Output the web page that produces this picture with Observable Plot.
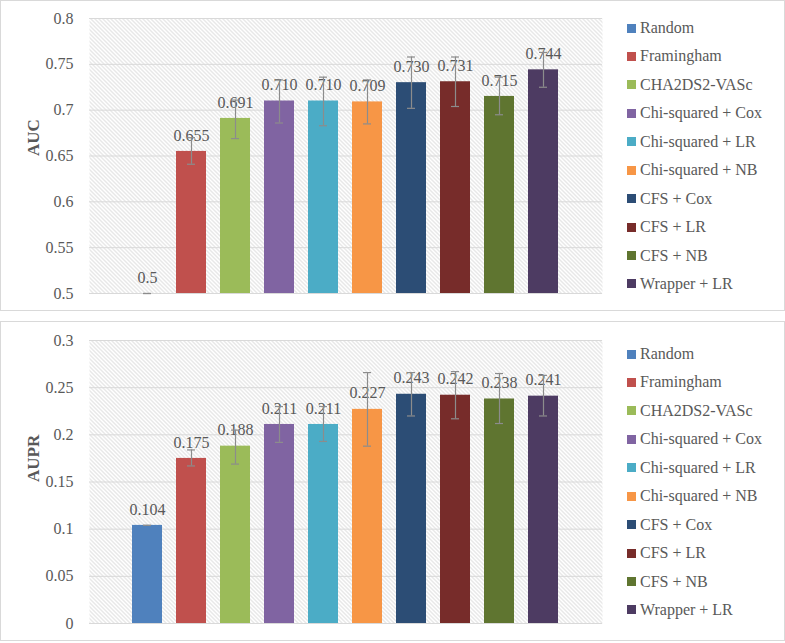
<!DOCTYPE html>
<html><head><meta charset="utf-8">
<script src="https://cdn.jsdelivr.net/npm/d3@7"></script>
<script src="https://cdn.jsdelivr.net/npm/@observablehq/plot@0.6"></script>
<style>
body{margin:0;background:#fff;font-family:"Liberation Serif","Times New Roman",serif;}
.panel{position:absolute;left:0;width:783px;border:1px solid #d9d9d9;background:#fff;}
.panel svg{position:absolute;left:0;top:0;}
.legend{position:absolute;left:626px;top:0;color:#595959;font-size:16px;font-family:"Liberation Serif","Times New Roman",serif;}
.legend .row{position:absolute;left:0;white-space:nowrap;display:flex;align-items:center;height:20px;line-height:20px;}
.legend .sw{width:9px;height:9px;margin-right:4px;flex:none;}
</style></head><body>
<div id="p1" class="panel" style="top:0;height:309px"></div>
<div id="p2" class="panel" style="top:321px;height:318px"></div>
<script>
const methods = ["Random","Framingham","CHA2DS2-VASc","Chi-squared + Cox","Chi-squared + LR","Chi-squared + NB","CFS + Cox","CFS + LR","CFS + NB","Wrapper + LR"];
const colors = ["#4F81BD","#C0504D","#9BBB59","#8064A2","#4BACC6","#F79646","#2C4D75","#772C2A","#5F7530","#4D3B62"];

const aucValues = [0.5,0.655,0.691,0.710,0.710,0.709,0.730,0.731,0.715,0.744];
const aucLow    = [0.5,0.641,0.669,0.686,0.683,0.685,0.702,0.704,0.695,0.725];
const aucHigh   = [0.5,0.670,0.711,0.733,0.736,0.733,0.758,0.758,0.736,0.763];
const aucLabels = ["0.5","0.655","0.691","0.710","0.710","0.709","0.730","0.731","0.715","0.744"];
const aucTicks = [0.5,0.55,0.6,0.65,0.7,0.75,0.8];
const aucTickLabels = ["0.5","0.55","0.6","0.65","0.7","0.75","0.8"];

const auprValues = [0.104,0.175,0.188,0.211,0.211,0.227,0.243,0.242,0.238,0.241];
const auprLow    = [0.104,0.167,0.169,0.192,0.193,0.188,0.220,0.217,0.212,0.220];
const auprHigh   = [0.104,0.184,0.205,0.230,0.230,0.266,0.266,0.267,0.265,0.263];
const auprLabels = ["0.104","0.175","0.188","0.211","0.211","0.227","0.243","0.242","0.238","0.241"];
const auprTicks = [0,0.05,0.1,0.15,0.2,0.25,0.3];
const auprTickLabels = ["0","0.05","0.1","0.15","0.2","0.25","0.3"];

function makePanel({id, values, low, high, labels, ticks, tickLabels, base, top, yLabel, height, marginTop, marginBottom, legendTop}) {
  const data = methods.map((name, i) => ({name, value: values[i], low: low[i], high: high[i], label: labels[i]}));
  const pid = "hatch-" + id;
  const svg = Plot.plot({
    width: 610, height,
    marginLeft: 88, marginRight: 9, marginTop, marginBottom,
    style: {fontFamily: "'Liberation Serif','Times New Roman',serif", fontSize: "16px", color: "#595959", background: "transparent"},
    x: {type: "band", domain: methods, paddingInner: 0.31, paddingOuter: 0.94, axis: null},
    y: {domain: [base, top], axis: null},
    color: {domain: methods, range: colors},
    marks: [
      Plot.frame({fill: `url(#${pid})`, stroke: "none"}),
      Plot.ruleY(ticks, {stroke: "#d9d9d9", strokeWidth: 1}),
      Plot.axisY({ticks, tickFormat: (d, i) => tickLabels[i], tickSize: 0, tickPadding: 16, label: null, fill: "#595959", fontSize: 16}),
      Plot.text([yLabel], {frameAnchor: "left", dx: -56, rotate: -90, fontWeight: "bold", fontSize: 17, fill: "#595959"}),
      Plot.barY(data, {x: "name", y1: base, y2: "value", fill: "name"}),
      Plot.text(data, {x: "name", y: "value", text: "label", dy: -16, fill: "#595959", fontSize: 16}),
      Plot.ruleX(data, {x: "name", y1: "low", y2: "high", stroke: "#8c8c8c", strokeWidth: 1.2}),
      Plot.tickY(data, {x: "name", y: "low", insetLeft: 11, insetRight: 11, stroke: "#8c8c8c", strokeWidth: 1.2}),
      Plot.tickY(data, {x: "name", y: "high", insetLeft: 11, insetRight: 11, stroke: "#8c8c8c", strokeWidth: 1.2})
    ]
  });
  const ns = "http://www.w3.org/2000/svg";
  const defs = document.createElementNS(ns, "defs");
  defs.innerHTML = `<pattern id="${pid}" patternUnits="userSpaceOnUse" width="4" height="4"><path d="M-1,-1L5,5M-1,3L1,5M3,-1L5,1" stroke="#c4c4c4" stroke-width="0.8" fill="none"/></pattern>`;
  svg.insertBefore(defs, svg.firstChild);
  const panel = document.getElementById(id);
  panel.appendChild(svg);
  const leg = document.createElement("div");
  leg.className = "legend";
  methods.forEach((m, i) => {
    const row = document.createElement("div");
    row.className = "row";
    row.style.top = (legendTop + i * 28.44 - 10) + "px";
    const sw = document.createElement("span");
    sw.className = "sw";
    sw.style.background = colors[i];
    const t = document.createElement("span");
    t.textContent = m;
    row.appendChild(sw); row.appendChild(t);
    leg.appendChild(row);
  });
  panel.appendChild(leg);
}

makePanel({id: "p1", values: aucValues, low: aucLow, high: aucHigh, labels: aucLabels, ticks: aucTicks, tickLabels: aucTickLabels, base: 0.5, top: 0.8, yLabel: "AUC", height: 309, marginTop: 17, marginBottom: 17, legendTop: 27});
makePanel({id: "p2", values: auprValues, low: auprLow, high: auprHigh, labels: auprLabels, ticks: auprTicks, tickLabels: auprTickLabels, base: 0, top: 0.3, yLabel: "AUPR", height: 318, marginTop: 18, marginBottom: 17, legendTop: 32});
</script>
</body></html>
